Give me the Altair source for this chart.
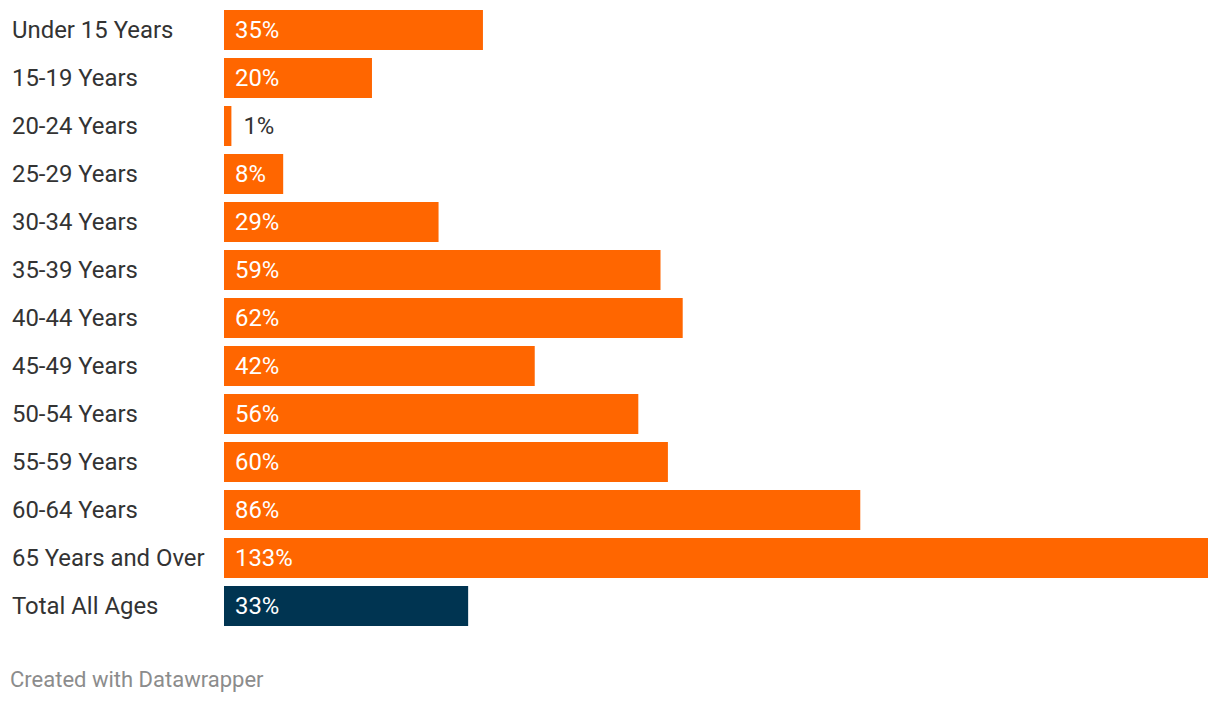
import altair as alt
import pandas as pd

categories = ["Under 15 Years", "15-19 Years", "20-24 Years", "25-29 Years", "30-34 Years",
              "35-39 Years", "40-44 Years", "45-49 Years", "50-54 Years", "55-59 Years",
              "60-64 Years", "65 Years and Over", "Total All Ages"]
values = [35, 20, 1, 8, 29, 59, 62, 42, 56, 60, 86, 133, 33]
groups = ["age"] * 12 + ["total"]

df = pd.DataFrame({"cat": categories, "val": values, "grp": groups})
df["label"] = df["val"].astype(str) + "%"

FONT = "Roboto"
FS = 23.9
y_enc = alt.Y("cat:N", sort=categories, axis=None,
              scale=alt.Scale(paddingInner=1/6, paddingOuter=0))
x_scale = alt.Scale(domain=[0, 133], nice=False, zero=True)

base = alt.Chart(df)

bars = base.mark_bar(cornerRadius=0).encode(
    x=alt.X("val:Q", scale=x_scale, axis=None),
    y=y_enc,
    color=alt.Color("grp:N", scale=alt.Scale(domain=["age", "total"], range=["#ff6600", "#003451"]), legend=None),
)

cat_labels = base.mark_text(align="left", baseline="middle", font=FONT, fontSize=FS, color="#333333", dy=1).encode(
    x=alt.value(-212),
    y=y_enc,
    text="cat:N",
)

inside = base.transform_filter("datum.val >= 5").mark_text(
    align="left", baseline="middle", font=FONT, fontSize=FS, color="#ffffff", dy=1).encode(
    x=alt.value(11),
    y=y_enc,
    text="label:N",
)

outside = base.transform_filter("datum.val < 5").mark_text(
    align="left", baseline="middle", font=FONT, fontSize=FS, color="#333333", dx=12, dy=1).encode(
    x=alt.X("val:Q", scale=x_scale),
    y=y_enc,
    text="label:N",
)

footer = alt.Chart(pd.DataFrame({"t": ["Created with Datawrapper"]})).mark_text(
    align="left", baseline="alphabetic", font=FONT, fontSize=22, color="#8c8c8c").encode(
    x=alt.value(-214),
    y=alt.value(677),
    text="t:N",
)

chart = alt.layer(bars, cat_labels, inside, outside, footer).properties(
    width=984, height=616,
    padding={"left": 216, "top": 2, "right": 4, "bottom": 70},
    autosize=alt.AutoSizeParams(type="none"),
).configure_view(stroke=None)

chart.save("out.html", embed_options={"renderer": "svg", "actions": False})
